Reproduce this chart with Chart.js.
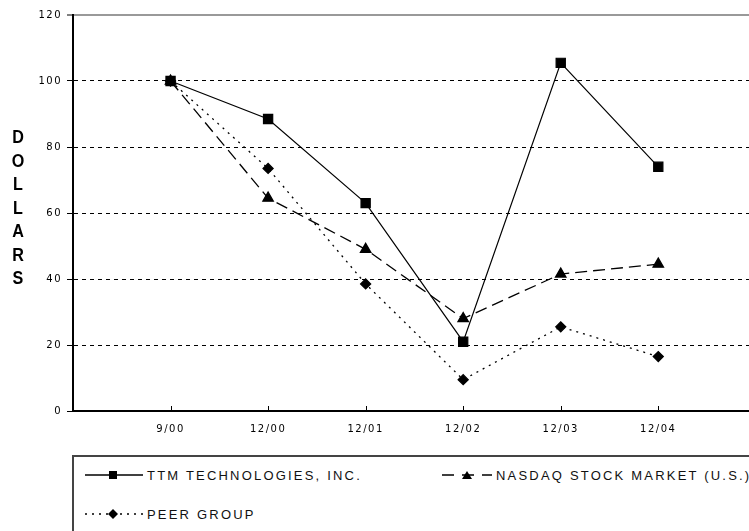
<!DOCTYPE html>
<html>
<head>
<meta charset="utf-8">
<script src="https://cdn.jsdelivr.net/npm/chart.js@4/dist/chart.umd.min.js"></script>
<style>
  html, body { margin: 0; padding: 0; background: #fff; }
  body { width: 749px; height: 531px; overflow: hidden; position: relative; font-family: 'Liberation Sans', Arial, sans-serif; }
  #wrap { position: absolute; left: 0; top: 0; width: 749px; height: 445px; }
  #ytitle {
    position: absolute; left: 8px; top: 125px; width: 20px;
    text-align: center; font-weight: bold; font-size: 19px; line-height: 23.5px;
    transform: scaleX(0.85);
  }
  #legend {
    position: absolute; left: 72px; top: 455px; width: 720px; height: 120px;
    border: 2px solid #444; box-sizing: border-box;
  }
  .item { position: absolute; height: 16px; display: flex; align-items: center; font-size: 13px; letter-spacing: 2.2px; color: #111; white-space: nowrap; }
  .item svg { margin-right: 4px; }
</style>
</head>
<body>
<div id="wrap"><canvas id="c" width="749" height="445"></canvas></div>
<div id="ytitle">D<br>O<br>L<br>L<br>A<br>R<br>S</div>
<div id="legend">
  <div class="item" style="left:11px; top:10px;">
    <svg width="58" height="12"><line x1="0" y1="6" x2="58" y2="6" stroke="#000" stroke-width="1.3"/><rect x="24" y="2" width="8" height="8" fill="#000"/></svg>TTM TECHNOLOGIES, INC.
  </div>
  <div class="item" style="left:368px; top:10px;">
    <svg width="50" height="12"><line x1="0" y1="6" x2="50" y2="6" stroke="#000" stroke-width="1.3" stroke-dasharray="12 8"/><polygon points="20,10 25,2 30,10" fill="#000"/></svg>NASDAQ STOCK MARKET (U.S.)
  </div>
  <div class="item" style="left:11px; top:49px;">
    <svg width="58" height="12"><line x1="0" y1="6" x2="58" y2="6" stroke="#000" stroke-width="1.3" stroke-dasharray="2 5"/><polygon points="28,1 33,6 28,11 23,6" fill="#000"/></svg>PEER GROUP
  </div>
</div>
<script>
// ─── Data ────────────────────────────────────────────────────────────────────

const LABELS = ['9/00', '12/00', '12/01', '12/02', '12/03', '12/04'];
const TTM    = [100, 88.5, 63, 21, 105.5, 74];
const NASDAQ = [100, 64.5, 49, 28, 41.5, 44.5];
const PEER   = [100, 73.5, 38.5, 9.5, 25.5, 16.5];
const Y_TICKS = [0, 20, 40, 60, 80, 100, 120];

const pts = arr => arr.map((v, i) => ({ x: i, y: v }));

// x tick marks point up into the plot in the original
const upTicks = {
  id: 'upTicks',
  beforeDraw(chart) { chart.ctx.letterSpacing = '1.5px'; },
  afterDraw(chart) {
    const { ctx, scales: { x } } = chart;
    ctx.save();
    ctx.strokeStyle = '#000';
    ctx.lineWidth = 1;
    x.ticks.forEach(t => {
      const px = Math.round(x.getPixelForValue(t.value)) + 0.5;
      ctx.beginPath();
      ctx.moveTo(px, x.top);
      ctx.lineTo(px, x.top - 5);
      ctx.stroke();
    });
    ctx.restore();
  }
};

new Chart(document.getElementById('c'), {
  type: 'line',
  data: {
    datasets: [
      {
        label: 'TTM TECHNOLOGIES, INC.',
        data: pts(TTM),
        borderColor: '#000', backgroundColor: '#000',
        borderWidth: 1.2, pointStyle: 'rect', pointRadius: 6.5,
        tension: 0
      },
      {
        label: 'NASDAQ STOCK MARKET (U.S.)',
        data: pts(NASDAQ),
        borderColor: '#000', backgroundColor: '#000',
        borderWidth: 1.3, borderDash: [12, 6], pointStyle: 'triangle', pointRadius: 6,
        tension: 0
      },
      {
        label: 'PEER GROUP',
        data: pts(PEER),
        borderColor: '#000', backgroundColor: '#000',
        borderWidth: 1.3, borderDash: [2, 5], pointStyle: 'rectRot', pointRadius: 5,
        tension: 0
      }
    ]
  },
  options: {
    responsive: false,
    animation: false,
    layout: { autoPadding: false, padding: { top: 15, left: 0, right: 0, bottom: 0 } },
    plugins: { legend: { display: false }, tooltip: { enabled: false } },
    elements: { point: { borderWidth: 1 } },
    scales: {
      x: {
        type: 'linear',
        min: -1, max: 5.93,
        afterBuildTicks: s => { s.ticks = LABELS.map((_, i) => ({ value: i })); },
        afterFit: s => { s.height = 34; },
        grid: { drawOnChartArea: false, drawTicks: false },
        border: { color: '#000', width: 2 },
        ticks: {
          padding: 12, color: '#000', maxRotation: 0, autoSkip: false,
          font: { family: 'DejaVu Sans', size: 10 },
          callback: v => LABELS[v] ?? ''
        }
      },
      y: {
        min: 0, max: 120,
        afterBuildTicks: s => { s.ticks = Y_TICKS.map(v => ({ value: v })); },
        afterFit: s => { s.width = 73; },
        grid: {
          color: c => c.tick && c.tick.value === 120 ? '#999' : (c.tick && c.tick.value === 0 ? 'rgba(0,0,0,0)' : '#000'),
          lineWidth: c => c.tick && c.tick.value === 120 ? 2 : 1,
          drawTicks: true, tickLength: 6, tickColor: '#000', tickWidth: 1, tickBorderDash: []
        },
        border: {
          color: '#000', width: 2,
          dash: c => c.tick && c.tick.value !== 120 ? [4, 4] : []
        },
        ticks: {
          padding: 5, color: '#000',
          font: { family: 'DejaVu Sans', size: 10 }
        }
      }
    }
  },
  plugins: [upTicks]
});
</script>
</body>
</html>
